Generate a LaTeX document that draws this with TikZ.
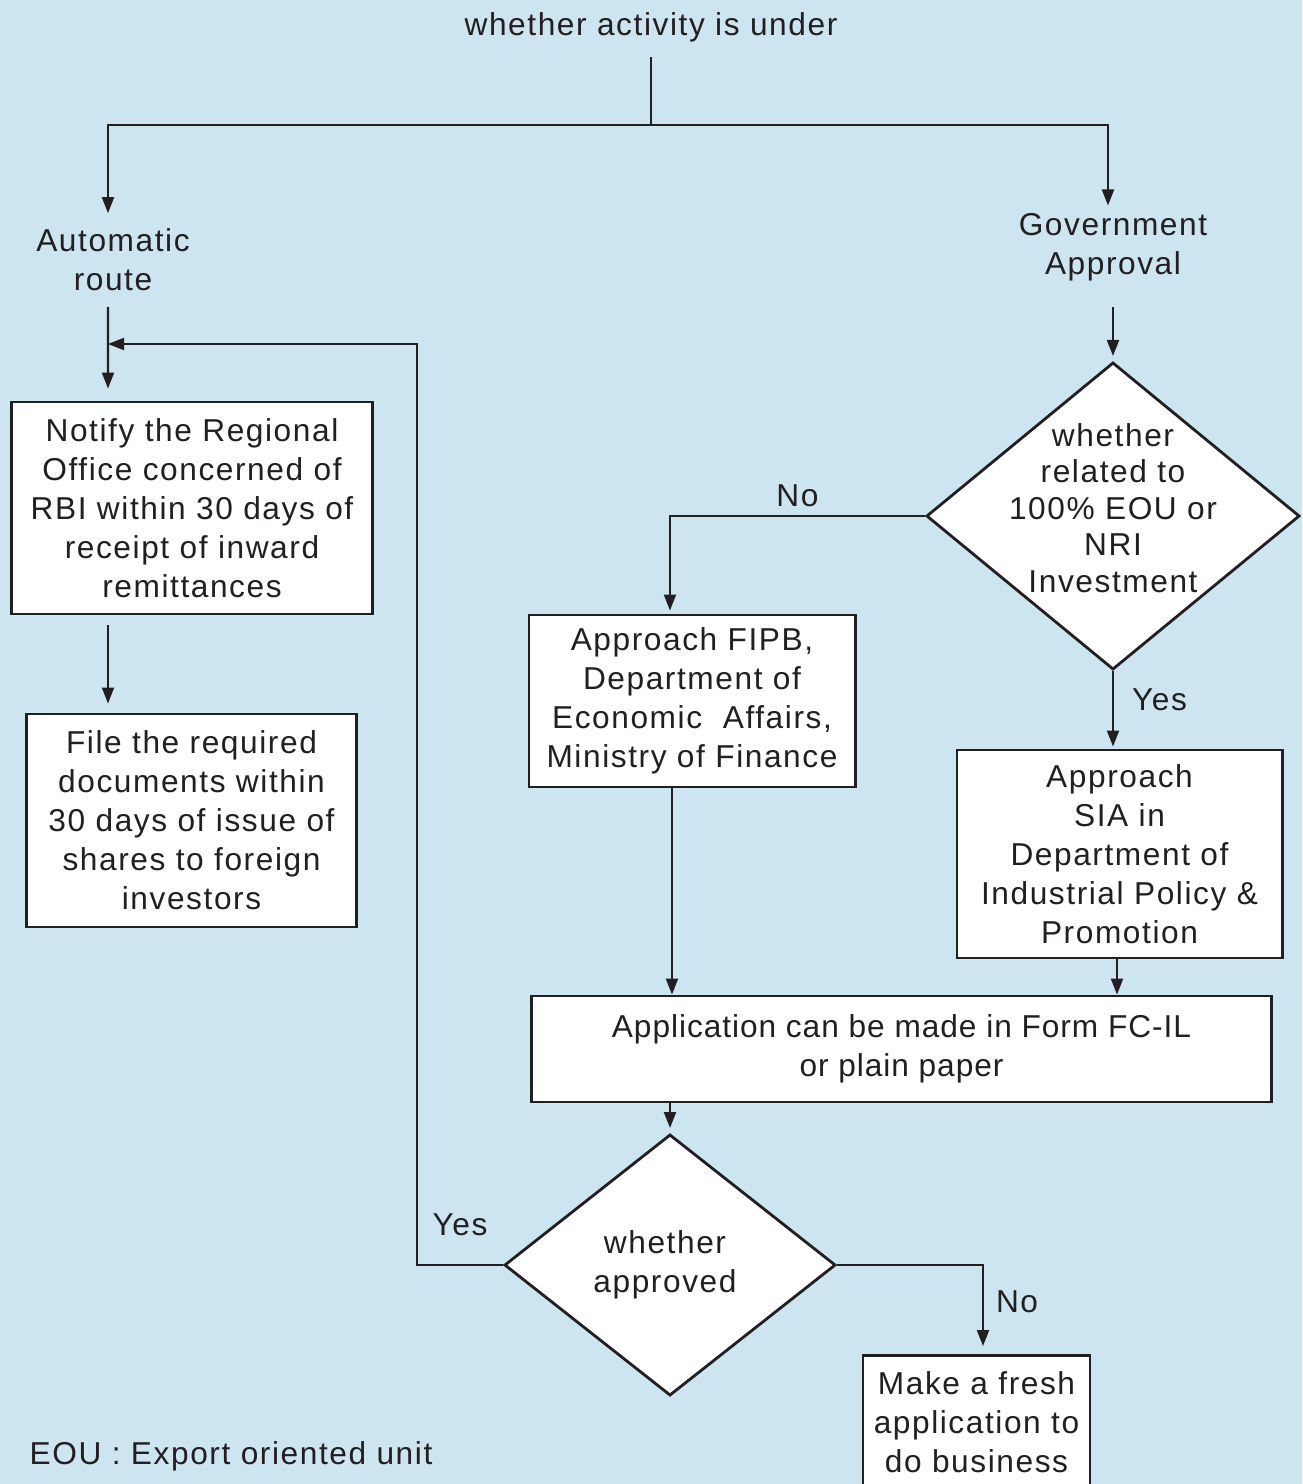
\documentclass[tikz,border=0pt]{standalone}
\usepackage{fontspec}
\setmainfont{Liberation Sans}[LetterSpace=5]
\usepackage{tikz}
\usetikzlibrary{arrows.meta,shapes.geometric}
\definecolor{chartbg}{RGB}{205,229,241}
\definecolor{ink}{RGB}{35,31,32}
\tikzset{box/.style={rectangle, draw=ink, line width=0.8pt, fill=white, align=center, inner sep=0pt}, decision/.style={diamond, draw=ink, line width=0.8pt, fill=white, inner sep=0pt}, plain/.style={align=center, inner sep=0.15cm}, tag/.style={inner sep=0.08cm}, link/.style={draw=ink, line width=0.6pt}, arrow/.style={link, -{Triangle[length=1.6mm, width=1.2mm]}}}

\begin{document}
\begin{tikzpicture}[x=0.01cm, y=-0.01cm, every node/.append style={font=\fontsize{9}{11.1}\selectfont, text=ink}]
\fill[chartbg] (0,0) rectangle (1302,1484);
\useasboundingbox (0,0) rectangle (1302,1484);
\node[plain] (activity) at (651,27) {whether activity is under};
\node[plain] (auto) at (113,260) {Automatic\\route};
\node[plain] (govt) at (1113,247) {Government\\Approval};
\node[box, minimum width=3.6cm, minimum height=2.12cm] (notify) at (192,508) {Notify the Regional\\Office concerned of\\RBI within 30 days of\\receipt of inward\\remittances};
\node[box, minimum width=3.29cm, minimum height=2.13cm] (file) at (191.5,820.5) {File the required\\documents within\\30 days of issue of\\shares to foreign\\investors};
\node[decision, minimum width=3.73cm, minimum height=3.07cm, label={[align=center, yshift=0.08cm, font=\fontsize{9}{10.4}\selectfont]center:{whether\\related to\\100\% EOU or\\NRI\\Investment}}] (eou) at (1113,516) {};
\node[box, minimum width=3.26cm, minimum height=1.72cm] (fipb) at (692,701) {Approach FIPB,\\Department of\\Economic~ Affairs,\\Ministry of Finance};
\node[box, minimum width=3.25cm, minimum height=2.08cm] (sia) at (1119.5,854) {Approach\\SIA in\\Department of\\Industrial Policy \&\\Promotion};
\node[box, minimum width=7.39cm, minimum height=1.06cm, font=\fontsize{9}{11.1}\selectfont\addfontfeature{LetterSpace=3}] (form) at (901.5,1049) {Application can be made in Form FC-IL\\or plain paper};
\node[decision, minimum width=3.31cm, minimum height=2.61cm, label={[align=center, xshift=-0.05cm]center:{whether\\approved}}] (approved) at (670,1265) {};
\node[box, minimum width=2.27cm, minimum height=1.33cm] (fresh) at (976.5,1422) {Make a fresh\\application to\\do business};
\node[plain, anchor=west] (note) at (14,1456) {EOU : Export oriented unit};
% top split
\coordinate (split) at (651,125);
\coordinate (join) at (108,344);
\coordinate (loop) at (417,1265);
\draw[link] (activity) -- (split);
\draw[arrow] (split) -| ([xshift=-0.05cm]auto.north);
\draw[arrow, shorten >=-0.08cm] (split) -| ([xshift=-0.05cm]govt.north);
% automatic route
\draw[arrow, shorten >=0.12cm] ([xshift=-0.05cm]auto.south) -- (join |- notify.north);
\draw[arrow, shorten <=0.1cm, shorten >=0.09cm] (join |- notify.south) -- (join |- file.north);
% government approval
\draw[arrow, shorten <=0.1cm, shorten >=0.05cm] (govt) -- (eou);
\draw[arrow, shorten >=0.03cm] (eou.west) -| node[tag, pos=0.25, above] {No} ([xshift=-0.22cm]fipb.north);
\draw[arrow, shorten >=0.02cm] (eou.south) -- node[tag, right, xshift=0.1cm, yshift=0.1cm] {Yes} (eou.south |- sia.north);
\draw[arrow] ([xshift=-0.2cm]fipb.south) -- ([xshift=-0.2cm]fipb.south |- form.north);
\draw[arrow] ([xshift=-0.025cm]sia.south) -- ([xshift=-0.025cm]sia.south |- form.north);
\draw[arrow, shorten >=0.05cm] (approved.north |- form.south) -- (approved.north);
% outcome
\draw[arrow] (approved.west) -- node[tag, above, yshift=0.2cm] {Yes} (loop) |- (join);
\draw[arrow, shorten >=0.08cm] (approved.east) -| node[tag, pos=0.75, right, yshift=0.08cm, xshift=0.04cm] {No} ([xshift=0.065cm]fresh.north);
\end{tikzpicture}
\end{document}
